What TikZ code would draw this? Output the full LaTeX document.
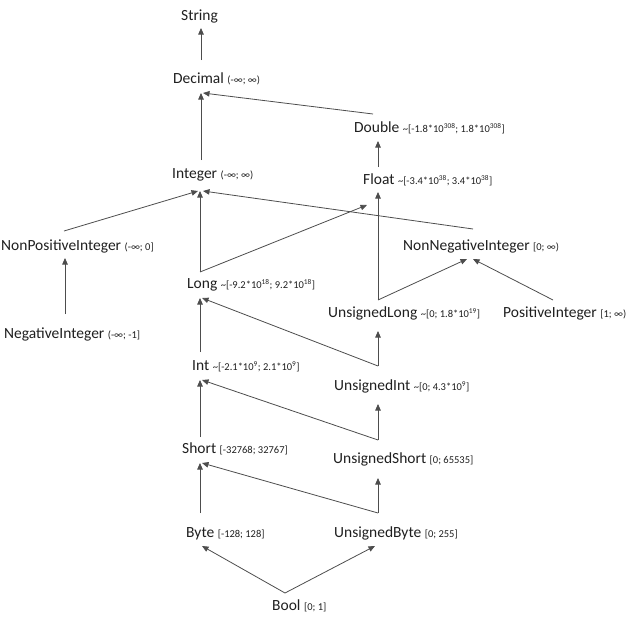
\documentclass[tikz,border=0pt]{standalone}
\usepackage{fontspec}
\setmainfont{Carlito}
\usetikzlibrary{arrows.meta}
\definecolor{ln}{HTML}{4D4D4D}
\definecolor{tx}{HTML}{1F1F1F}
\newcommand{\rng}[1]{{\fontsize{10.5}{12}\selectfont #1}}
\newcommand{\sx}[1]{\textsuperscript{#1}}
\newcommand{\tl}{\textasciitilde}
\tikzset{
  lbl/.style={anchor=base west, inner sep=0pt, text=tx, font=\fontsize{15.5}{18}\selectfont},
  conn/.style={draw=ln, line width=0.8pt, -{Triangle[length=6.5pt,width=5.5pt]}}
}
\begin{document}
\begin{tikzpicture}[x=1pt,y=-1pt]
\useasboundingbox (0,0) rectangle (633,621);
% labels
\node[lbl] (String) at (181,20) {String};
\node[lbl] (Decimal) at (173,83) {Decimal \rng{(-∞; ∞)}};
\node[lbl] (Double) at (354,132) {Double \rng{\tl[-1.8*10\sx{308}; 1.8*10\sx{308}]}};
\node[lbl] (Integer) at (172,178) {Integer \rng{(-∞; ∞)}};
\node[lbl] (Float) at (363,184) {Float \rng{\tl[-3.4*10\sx{38}; 3.4*10\sx{38}]}};
\node[lbl] (NonPos) at (1,250) {NonPositiveInteger \rng{(-∞; 0]}};
\node[lbl] (NonNeg) at (403,250) {NonNegativeInteger \rng{[0; ∞)}};
\node[lbl] (Long) at (187,288) {Long \rng{\tl[-9.2*10\sx{18}; 9.2*10\sx{18}]}};
\node[lbl] (NegInt) at (4,338) {NegativeInteger \rng{(-∞; -1]}};
\node[lbl] (ULong) at (328,317) {UnsignedLong \rng{\tl[0; 1.8*10\sx{19}]}};
\node[lbl] (PosInt) at (503,317) {PositiveInteger \rng{[1; ∞)}};
\node[lbl] (Int) at (192,370) {Int \rng{\tl[-2.1*10\sx{9}; 2.1*10\sx{9}]}};
\node[lbl] (UInt) at (334,390) {UnsignedInt \rng{\tl[0; 4.3*10\sx{9}]}};
\node[lbl] (Short) at (182,453) {Short \rng{[-32768; 32767]}};
\node[lbl] (UShort) at (333,463) {UnsignedShort \rng{[0; 65535]}};
\node[lbl] (Byte) at (186,537) {Byte \rng{[-128; 128]}};
\node[lbl] (UByte) at (334,537) {UnsignedByte \rng{[0; 255]}};
\node[lbl] (Bool) at (272,610) {Bool \rng{[0; 1]}};
% ports
\coordinate (String-in) at (201,28);
\coordinate (Decimal-out) at (201,60);
\coordinate (Decimal-in) at (201,93);
\coordinate (Decimal-in2) at (203,93);
\coordinate (Double-out) at (373,114);
\coordinate (Double-in) at (378,141);
\coordinate (Integer-out) at (201,160);
\coordinate (Integer-inA) at (198,191);
\coordinate (Integer-inB) at (200,191);
\coordinate (Integer-inC) at (203,191);
\coordinate (Float-out) at (378,167);
\coordinate (Float-in) at (378,192);
\coordinate (Float-in2) at (367,205);
\coordinate (NonPos-out) at (64,231);
\coordinate (NonPos-in) at (65,258);
\coordinate (NonNeg-out) at (473,229);
\coordinate (NonNeg-inA) at (467,259);
\coordinate (NonNeg-inB) at (473,259);
\coordinate (Long-out) at (200,272);
\coordinate (Long-in) at (200,298);
\coordinate (Long-in2) at (202,298);
\coordinate (NegInt-out) at (65,314);
\coordinate (ULong-out) at (378,300);
\coordinate (ULong-in) at (378,331);
\coordinate (PosInt-out) at (553,300);
\coordinate (Int-out) at (200,352);
\coordinate (Int-in) at (200,380);
\coordinate (Int-in2) at (202,380);
\coordinate (UInt-out) at (378,366);
\coordinate (UInt-in) at (378,404);
\coordinate (Short-out) at (200,437);
\coordinate (Short-in) at (200,463);
\coordinate (Short-in2) at (202,463);
\coordinate (UShort-out) at (378,440);
\coordinate (UShort-in) at (378,478);
\coordinate (Byte-out) at (200,513);
\coordinate (Byte-in) at (202,546);
\coordinate (UByte-out) at (378,513);
\coordinate (UByte-in) at (375,546);
\coordinate (Bool-out) at (285,593);
% connectors
\draw[conn] (Decimal-out) -- (String-in);
\draw[conn] (Integer-out) -- (Decimal-in);
\draw[conn] (Double-out) -- (Decimal-in2);
\draw[conn] (Float-out) -- (Double-in);
\draw[conn] (NonPos-out) -- (Integer-inA);
\draw[conn] (Long-out) -- (Integer-inB);
\draw[conn] (NonNeg-out) -- (Integer-inC);
\draw[conn] (Long-out) -- (Float-in2);
\draw[conn] (NegInt-out) -- (NonPos-in);
\draw[conn] (ULong-out) -- (Float-in);
\draw[conn] (ULong-out) -- (NonNeg-inA);
\draw[conn] (PosInt-out) -- (NonNeg-inB);
\draw[conn] (Int-out) -- (Long-in);
\draw[conn] (UInt-out) -- (Long-in2);
\draw[conn] (UInt-out) -- (ULong-in);
\draw[conn] (Short-out) -- (Int-in);
\draw[conn] (UShort-out) -- (Int-in2);
\draw[conn] (UShort-out) -- (UInt-in);
\draw[conn] (Byte-out) -- (Short-in);
\draw[conn] (UByte-out) -- (Short-in2);
\draw[conn] (UByte-out) -- (UShort-in);
\draw[conn] (Bool-out) -- (Byte-in);
\draw[conn] (Bool-out) -- (UByte-in);
\end{tikzpicture}
\end{document}
